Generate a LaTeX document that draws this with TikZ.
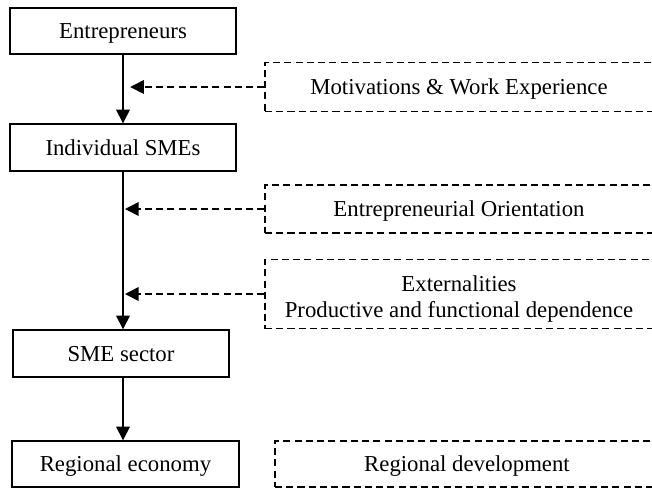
\documentclass[tikz,border=0pt]{standalone}
\usepackage{fontspec}
\setmainfont{Liberation Serif}
\usepackage{tikz}
\usetikzlibrary{arrows.meta,positioning}

\begin{document}
\begin{tikzpicture}[on grid,line width=1pt,
    font=\fontsize{16.2}{18.4}\selectfont,
    level/.style={draw,rectangle,inner sep=0pt,minimum height=1.15cm,text height=1.1em,text depth=0pt},
    factor/.style={draw,dash pattern=on 5pt off 3pt,inner sep=0pt,align=center,minimum width=9.7cm,
      minimum height=1.15cm,text height=1.1em,text depth=0pt},
    >={Triangle[length=0.34cm,width=0.34cm]}]
   \useasboundingbox (0,0) rectangle (16.3,-12.225);

   % main chain
   \node[level,minimum width=5.65cm] (ent) at (3.075,-0.775) {Entrepreneurs};
   \node[level,minimum width=5.65cm,minimum height=1.175cm] (ind) [below=2.9125cm of ent] {Individual SMEs};
   \node[level,minimum width=5.4cm,minimum height=1.175cm] (sec) [below=5.15cm of ind,xshift=-0.05cm] {SME sector};
   \node[level,minimum width=5.675cm] (reg) [below=2.7625cm of sec,xshift=0.1125cm] {Regional economy};

   % influencing factors
   \node[factor,minimum height=1.225cm] (mot) at (11.475,-2.175) {Motivations \& Work Experience};
   \node[factor,minimum height=1.2cm] (ori) at (11.475,-5.225) {Entrepreneurial Orientation};
   \node[factor,minimum height=1.725cm,text height=33pt] (ext) at (11.475,-7.35) {Externalities\\Productive and functional dependence};
   \node[factor,minimum width=9.6cm] (dev) at (11.675,-11.6) {Regional development};

   \coordinate[xshift=0.18cm] (m1) at (ent.south |- mot.west);
   \coordinate[xshift=0.05cm] (o1) at (ind.south |- ori.west);
   \coordinate[xshift=0.05cm] (e1) at (ind.south |- ext.west);

   \draw[->] (ent) -- (ind);
   \draw[->] (ind.south) -- (ind.south |- sec.north);
   \draw[->] (sec.south -| ind.south) -- (reg.north -| ind.south);

   \draw[->,dash pattern=on 5pt off 3pt] (mot.west) -- (m1);
   \draw[->,dash pattern=on 5pt off 3pt] (ori.west) -- (o1);
   \draw[->,dash pattern=on 5pt off 3pt] (ext.west) -- (e1);
\end{tikzpicture}
\end{document}
